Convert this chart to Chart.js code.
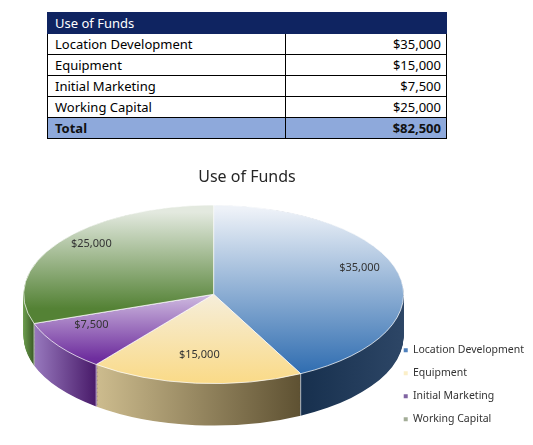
<!DOCTYPE html>
<html>
<head>
<meta charset="utf-8">
<script src="https://cdn.jsdelivr.net/npm/chart.js@4.4.0/dist/chart.umd.min.js"></script>
<style>
html, body { margin: 0; padding: 0; background: #fff; width: 533px; height: 445px; overflow: hidden; position: relative; font-family: "Noto Sans", sans-serif; }
#funds { position: absolute; left: 47px; top: 12px; width: 400px; border-collapse: collapse; font-size: 13px; color: #000; }
#funds td { border: 1px solid #000; height: 20px; padding: 0 5px 0 7px; line-height: 18px; white-space: nowrap; }
#funds td.amt { text-align: right; width: 148px; }
#funds tr.head td { background: #0F2461; color: #fff; border-color: #0F2461; }
#funds tr.total td { background: #8EA9DB; font-weight: bold; color: #111; }
#chartBox { position: absolute; left: -40px; top: 150px; }
</style>
</head>
<body>
<table id="funds"></table>
<div id="chartBox"><canvas id="pie" width="574" height="295"></canvas></div>
<script>
// values
const categories = ['Location Development', 'Equipment', 'Initial Marketing', 'Working Capital'];
const amounts = [35000, 15000, 7500, 25000];
const totalAmount = 82500;

const legendColors = ['#4F81BD', '#FBEFC8', '#8064A2', '#A3AD97'];
const topColors = [['#EEF2F8', '#2E6CB0'], ['#F5F2EB', '#FADA87'], ['#EAE2F2', '#6E2E9E'], ['#E3E9DF', '#548235']];
const topStops = [[0.02, 0.95], [0.4, 1], [0.4, 0.86], [0.04, 0.58]];
const sideColors = [['#17304E', '#2D4666'], ['#CDBC8E', '#5E5132'], ['#9879BE', '#481A69'], ['#6A9A4C', '#3A5A26']];

const fmt = v => '$' + v.toLocaleString('en-US');

// table above the chart
const table = document.getElementById('funds');
let html = '<tr class="head"><td colspan="2">Use of Funds</td></tr>';
categories.forEach((c, i) => {
    html += `<tr><td>${c}</td><td class="amt">${fmt(amounts[i])}</td></tr>`;
});
html += `<tr class="total"><td>Total</td><td class="amt">${fmt(totalAmount)}</td></tr>`;
table.innerHTML = html;

const pieRadius = 190;
const tilt = 0.47;     // vertical squash of the pie
const depth = 42;      // side wall height in screen px
const pieShiftX = 38;  // pie sits right of the plot area centre

// squash the pie into an ellipse and extrude a side wall under it
const tiltPlugin = {
    id: 'tilt',
    beforeDatasetsDraw(chart) {
        const ctx = chart.ctx;
        const meta = chart.getDatasetMeta(0);
        const first = meta.data[0];
        const cx = first.x, cy = first.y, r = first.outerRadius;
        ctx.save();
        ctx.translate(pieShiftX, chart.chartArea.top);
        ctx.scale(1, tilt);
        ctx.translate(0, -(cy - r));

        const sideFills = meta.data.map((arc, i) => {
            let xs = [];
            for (let t = arc.startAngle; t <= arc.endAngle; t += 0.01) {
                const n = ((t % (2 * Math.PI)) + 2 * Math.PI) % (2 * Math.PI);
                if (n <= Math.PI) xs.push(cx + r * Math.cos(t));
            }
            if (!xs.length) xs = [cx - r, cx + r];
            const g = ctx.createLinearGradient(Math.min(...xs), 0, Math.max(...xs), 0);
            g.addColorStop(0, sideColors[i][0]);
            g.addColorStop(1, sideColors[i][1]);
            return g;
        });

        for (let d = depth / tilt; d > 0; d -= 0.8 / tilt) {
            ctx.save();
            ctx.translate(0, d);
            meta.data.forEach((arc, i) => {
                const o = arc.options;
                arc.options = Object.assign({}, o, { backgroundColor: sideFills[i], borderWidth: 0 });
                arc.draw(ctx);
                arc.options = o;
            });
            ctx.restore();
        }
        // white seams between the side walls
        ctx.strokeStyle = 'rgba(255,255,255,0.9)';
        ctx.lineWidth = 1;
        meta.data.forEach(arc => {
            const a = arc.startAngle;
            if (Math.sin(a) > 0) {
                const x = cx + r * Math.cos(a), y = cy + r * Math.sin(a);
                ctx.beginPath();
                ctx.moveTo(x, y);
                ctx.lineTo(x, y + depth / tilt);
                ctx.stroke();
            }
        });
    },
    afterDatasetsDraw(chart) {
        const ctx = chart.ctx;
        ctx.restore();
        const meta = chart.getDatasetMeta(0);
        const top = chart.chartArea.top;
        ctx.save();
        ctx.font = '11px "Noto Sans", sans-serif';
        ctx.fillStyle = '#333';
        ctx.textAlign = 'center';
        ctx.textBaseline = 'middle';
        meta.data.forEach((arc, i) => {
            const mid = (arc.startAngle + arc.endAngle) / 2;
            const f = 0.79;
            const x = arc.x + Math.cos(mid) * arc.outerRadius * f + pieShiftX;
            const yPre = arc.y + Math.sin(mid) * arc.outerRadius * f;
            const y = top + (yPre - (arc.y - arc.outerRadius)) * tilt - 10;
            ctx.fillText(fmt(amounts[i]), x, y);
        });
        ctx.restore();
    }
};

new Chart(document.getElementById('pie'), {
    type: 'pie',
    data: {
        labels: categories,
        datasets: [{
            data: amounts,
            radius: pieRadius,
            clip: false,
            borderColor: '#fff',
            borderWidth: 1,
            backgroundColor: (c) => {
                const ch = c.chart;
                const area = ch.chartArea;
                const i = c.dataIndex;
                if (!area) return legendColors[i];
                const cy = (area.top + area.bottom) / 2;
                const g = ch.ctx.createLinearGradient(0, cy - pieRadius, 0, cy + pieRadius);
                g.addColorStop(topStops[i][0], topColors[i][0]);
                g.addColorStop(topStops[i][1], topColors[i][1]);
                return g;
            }
        }]
    },
    options: {
        responsive: false,
        animation: false,
        events: [],
        layout: { padding: { left: 0, right: 0, bottom: 8 } },
        plugins: {
            title: {
                display: true,
                text: 'Use of Funds',
                color: '#262626',
                font: { family: '"Noto Sans", sans-serif', size: 16, weight: 'normal' },
                padding: { top: 17.4, bottom: 18.4 }
            },
            legend: {
                position: 'right',
                align: 'end',
                labels: {
                    boxWidth: 4,
                    boxHeight: 4,
                    padding: 12.5,
                    color: '#333',
                    font: { family: '"Noto Sans", sans-serif', size: 10.5 },
                    generateLabels: () => categories.map((t, i) => ({
                        text: t, fillStyle: legendColors[i], strokeStyle: legendColors[i],
                        lineWidth: 0, hidden: false, index: i, fontColor: '#333'
                    }))
                }
            },
            tooltip: { enabled: false }
        }
    },
    plugins: [tiltPlugin]
});
</script>
</body>
</html>
